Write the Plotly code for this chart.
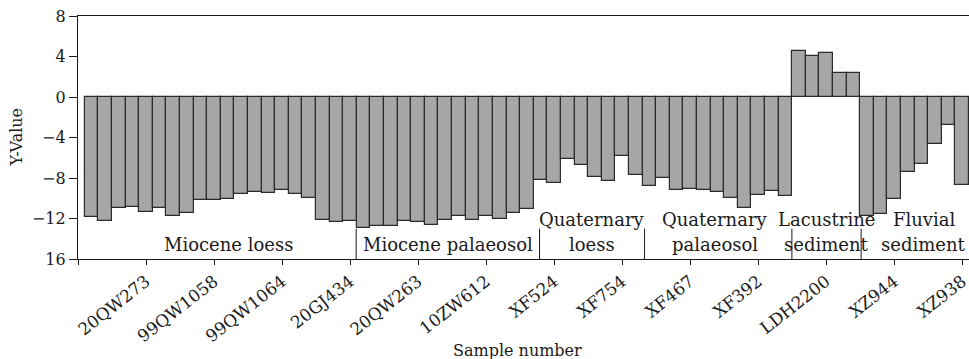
import plotly.graph_objects as go

# Sample positions along the profile and their measured values
positions = list(range(1, 66))
values = [
    -11.87, -12.27, -10.98, -10.85, -11.38, -10.98, -11.74, -11.48, -10.22, -10.22,
    -10.10, -9.59, -9.36, -9.53, -9.23, -9.59, -9.96, -12.14, -12.30, -12.27,
    -12.92, -12.77, -12.77, -12.27, -12.37, -12.64, -12.14, -11.74, -12.14, -11.74,
    -12.02, -11.46, -11.11, -8.20, -8.53, -6.15, -6.72, -7.94, -8.30, -5.82,
    -7.74, -8.80, -8.04, -9.20, -9.07, -9.20, -9.36, -9.96, -10.98, -9.66,
    -9.33, -9.82, 4.52, 4.03, 4.33, 2.41, 2.41, -11.78, -11.60, -10.12,
    -7.41, -6.65, -4.60, -2.81, -8.70,
]

# Labelled sample numbers on the x axis
tick_positions = [0, 5, 10, 15, 20, 25, 30, 35, 40, 45, 50, 55, 60, 65]
tick_labels = ["", "20QW273", "99QW1058", "99QW1064", "20GJ434", "20QW263", "10ZW612",
               "XF524", "XF754", "XF467", "XF392", "LDH2200", "XZ944", "XZ938"]

# Y axis ticks
y_ticks = [-16, -12, -8, -4, 0, 4, 8]
y_tick_labels = ["16", "\u221212", "\u22128", "\u22124", "0", "4", "8"]

# Sediment groups: label lines and centre positions, plus group boundaries
group_lines = [
    ("Miocene loess", 11.06, 2),
    ("Miocene palaeosol", 27.2, 2),
    ("Quaternary", 37.8, 1), ("loess", 37.8, 2),
    ("Quaternary", 46.8, 1), ("palaeosol", 46.8, 2),
    ("Lacustrine", 55.0, 1), ("sediment", 55.0, 2),
    ("Fluvial", 62.2, 1), ("sediment", 62.1, 2),
]
group_bounds = [20.45, 33.93, 41.65, 52.48, 57.57]

FONT = "DejaVu Serif"
INK = "#1a1a1a"

fig = go.Figure()
fig.add_trace(go.Bar(
    x=positions, y=values, width=1.0,
    marker=dict(color="#a6a6a6", line=dict(color="#2b2b2b", width=1.2)),
    showlegend=False,
))

row_y = {1: -12.1, 2: -14.55}
for text, xc, row in group_lines:
    fig.add_annotation(x=xc, y=row_y[row], xref="x", yref="y", text=text,
                       showarrow=False, font=dict(family=FONT, size=18, color=INK),
                       xanchor="center", yanchor="middle")

for xb in group_bounds:
    fig.add_shape(type="line", x0=xb, x1=xb, y0=-16, y1=-13.0, xref="x", yref="y",
                  line=dict(color=INK, width=1))

fig.update_layout(
    width=969, height=359,
    margin=dict(l=78, r=0, t=16, b=100),
    paper_bgcolor="white", plot_bgcolor="white",
    bargap=0,
    font=dict(family=FONT, color=INK),
    xaxis=dict(
        range=[0, 65.5], tickmode="array", tickvals=tick_positions, ticktext=tick_labels,
        tickangle=-38, ticks="outside", ticklen=5, tickwidth=1, tickcolor=INK,
        ticklabeloverflow="allow",
        showline=True, linecolor=INK, linewidth=1.2, mirror=True,
        showgrid=False, zeroline=False,
        tickfont=dict(family=FONT, size=17, color=INK),
    ),
    yaxis=dict(
        range=[-16, 8], tickmode="array", tickvals=y_ticks, ticktext=y_tick_labels,
        ticks="outside", ticklen=8, tickwidth=1, tickcolor=INK,
        showline=True, linecolor=INK, linewidth=1.2,
        showgrid=False, zeroline=False,
        tickfont=dict(family=FONT, size=16, color=INK),
    ),
)

# Axis titles placed as annotations in paper coordinates
fig.add_annotation(text="Sample number", showarrow=False,
                   x=(517 - 78) / 891, y=-(350 - 259) / 243,
                   xref="paper", yref="paper", xanchor="center", yanchor="middle",
                   font=dict(family=FONT, size=16, color=INK))
fig.add_annotation(text="Y-Value", textangle=-90, showarrow=False,
                   x=-(78 - 16) / 891, y=0.5,
                   xref="paper", yref="paper", xanchor="center", yanchor="middle",
                   font=dict(family=FONT, size=16, color=INK))

fig.write_html("out.html")
